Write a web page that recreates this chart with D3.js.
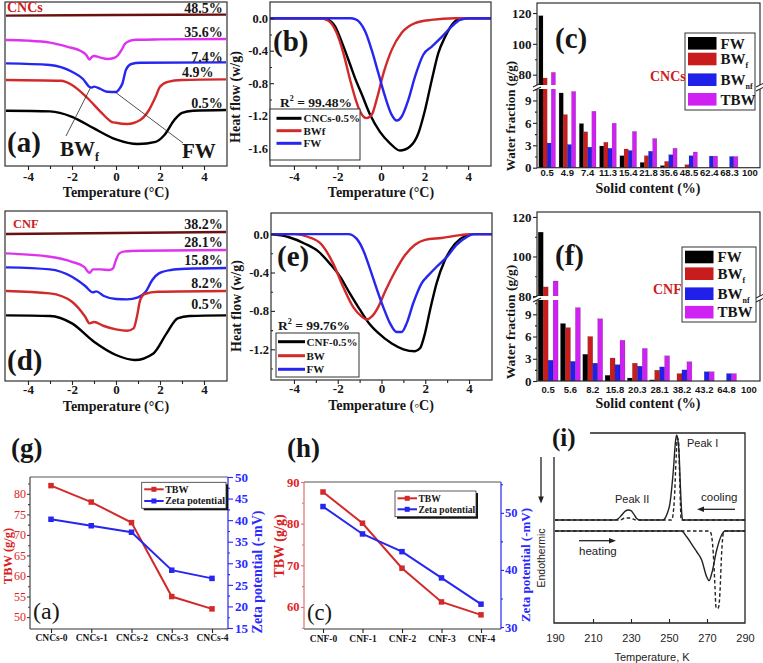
<!DOCTYPE html>
<html>
<head>
<meta charset="utf-8">
<script src="https://cdn.jsdelivr.net/npm/d3@7"></script>
<style>
html,body{margin:0;padding:0;background:#fff;}
svg{display:block;}
</style>
</head>
<body>
<svg id="fig" width="763" height="663"></svg>
<script>
// ================= DATA =================
// (a) CNCs DSC curves, stacked (temperature °C, heat flow a.u.)
const labelsA = ["48.5%", "35.6%", "7.4%", "4.9%", "0.5%"];
const cncs485 = [[-5,-0.68],[0,-0.65],[5,-0.63]];
const cncs356 = [[-5,-1.90],[-4,-1.93],[-3,-2.03],[-2.2,-2.24],[-1.6,-2.45],[-1.35,-2.65],[-1.2,-2.88],[-1.1,-2.75],[-1.0,-2.70],[-0.7,-2.78],[-0.4,-2.85],[-0.1,-2.80],[0.1,-2.65],[0.25,-2.40],[0.4,-2.10],[0.6,-1.95],[0.9,-1.89],[2,-1.87],[5,-1.85]];
const cncs74 = [[-5,-3.07],[-3,-3.15],[-2,-3.49],[-1.5,-3.85],[-1.2,-4.25],[-1.1,-4.28],[-1.0,-4.23],[-0.7,-4.35],[-0.4,-4.49],[0,-4.50],[0.15,-4.35],[0.3,-4.05],[0.45,-3.40],[0.7,-3.10],[1.1,-3.04],[5,-3.02]];
const cncs49 = [[-5,-3.90],[-2.5,-3.94],[-2,-4.15],[-1.3,-4.80],[-0.7,-5.49],[-0.2,-5.99],[0,-6.04],[0.5,-6.10],[1.1,-5.90],[1.5,-5.40],[1.8,-4.74],[2.0,-4.24],[2.35,-3.99],[3,-3.90],[5,-3.87]];
const cncs05 = [[-5,-5.44],[-3,-5.47],[-2,-5.74],[-1,-6.32],[0,-6.87],[1,-7.10],[1.8,-6.99],[2.2,-6.65],[2.65,-5.90],[3.0,-5.54],[3.5,-5.44],[5,-5.40]];

// (b) deconvolution CNCs-0.5% (°C, W/g)
const legendB = ["CNCs-0.5%", "BWf", "FW"];
const bTotal = [[-5.1,0],[-2.8,0],[-2.5,-0.01],[-2.11,-0.10],[-1.78,-0.31],[-1.42,-0.57],[-1.19,-0.74],[-0.88,-0.94],[-0.5,-1.19],[-0.05,-1.40],[0.41,-1.54],[0.87,-1.63],[1.33,-1.58],[1.71,-1.42],[2.02,-1.13],[2.33,-0.76],[2.63,-0.43],[2.94,-0.23],[3.32,-0.06],[3.7,0],[5.05,0]];
const bBWf = [[-5.1,0],[-2.8,0],[-2.42,-0.03],[-2.04,-0.18],[-1.73,-0.43],[-1.42,-0.76],[-1.19,-0.98],[-0.96,-1.15],[-0.66,-1.23],[-0.43,-1.19],[-0.2,-1.0],[0.11,-0.68],[0.49,-0.39],[0.95,-0.18],[1.56,-0.06],[2.3,-0.02],[3.4,0],[5.05,0]];
const bFW = [[-5.1,0],[-1.4,0],[-1.19,-0.01],[-0.73,-0.16],[-0.43,-0.39],[-0.12,-0.68],[0.18,-0.96],[0.49,-1.19],[0.72,-1.26],[0.95,-1.21],[1.26,-1.0],[1.56,-0.72],[1.94,-0.45],[2.33,-0.35],[2.79,-0.23],[3.25,-0.10],[3.63,-0.02],[4.0,0],[5.05,0]];
const r2B = "99.48%";

// (c) CNCs water fractions (g/g)
const solidC = ["0.5","4.9","7.4","11.3","15.4","21.8","35.6","48.5","62.4","68.3","100"];
const fwC   = [118.2, 10.0, 5.9, 2.9, 1.6, 0.7, 0.27, 0, 0, 0, 0];
const bwfC  = [77.8, 7.1, 4.8, 3.4, 2.5, 1.6, 0.84, 0.4, 0, 0, 0];
const bwnfC = [3.3, 3.1, 2.75, 2.6, 2.3, 2.2, 1.73, 1.6, 1.55, 1.5, 0];
const tbwC  = [81.5, 10.2, 7.55, 5.95, 4.85, 3.9, 2.6, 2.1, 1.55, 1.5, 0];

// (d) CNF DSC curves, stacked
const labelsD = ["38.2%", "28.1%", "15.8%", "8.2%", "0.5%"];
const cnf382 = [[-5,-1.15],[0,-1.10],[5,-1.05]];
const cnf281 = [[-5,-2.12],[-3,-2.29],[-2,-2.54],[-1.45,-2.79],[-1.2,-3.09],[-1.05,-2.92],[-0.7,-2.92],[-0.3,-2.95],[-0.15,-2.89],[0,-2.45],[0.15,-2.12],[0.4,-2.02],[1.1,-1.99],[5,-1.95]];
const cnf158 = [[-5,-2.82],[-3,-2.92],[-2,-3.29],[-1.4,-3.75],[-1.05,-4.07],[-0.9,-4.02],[-0.55,-4.25],[0,-4.40],[0.5,-4.42],[1.0,-4.32],[1.35,-4.04],[1.65,-3.45],[1.95,-3.12],[2.5,-2.95],[3.2,-2.89],[5,-2.85]];
const cnf82 = [[-5,-4.00],[-3,-4.12],[-2,-4.54],[-1.4,-5.29],[-1.2,-5.62],[-1.0,-5.55],[-0.55,-5.75],[0,-5.92],[0.5,-5.99],[0.8,-5.87],[0.95,-5.29],[1.1,-4.45],[1.3,-4.15],[1.9,-4.04],[5,-4.00]];
const cnf05 = [[-5,-5.22],[-3,-5.25],[-2,-5.62],[-1,-6.54],[0,-7.20],[0.85,-7.45],[1.7,-7.12],[2.3,-6.12],[2.8,-5.37],[3.35,-5.25],[5,-5.22]];

// (e) deconvolution CNF-0.5%
const legendE = ["CNF-0.5%", "BW", "FW"];
const eTotal = [[-5.05,0],[-4.26,-0.03],[-3.5,-0.10],[-2.89,-0.18],[-2.35,-0.31],[-1.9,-0.44],[-1.44,-0.62],[-0.98,-0.79],[-0.6,-0.92],[-0.15,-1.03],[0.47,-1.14],[1.0,-1.20],[1.53,-1.22],[1.76,-1.19],[1.99,-1.03],[2.22,-0.79],[2.52,-0.51],[2.9,-0.27],[3.36,-0.10],[3.82,-0.02],[4.2,0],[5.05,0]];
const eBW = [[-5.05,0],[-3.95,0],[-3.34,-0.03],[-2.73,-0.11],[-2.2,-0.31],[-1.75,-0.55],[-1.29,-0.76],[-0.9,-0.86],[-0.68,-0.89],[-0.45,-0.86],[-0.15,-0.76],[0.16,-0.60],[0.62,-0.39],[1.07,-0.22],[1.53,-0.11],[1.99,-0.06],[2.75,-0.04],[3.6,-0.01],[4.0,0],[5.05,0]];
const eFW = [[-5.05,0],[-1.52,0],[-1.13,-0.05],[-0.83,-0.17],[-0.53,-0.36],[-0.22,-0.57],[0.08,-0.76],[0.39,-0.93],[0.69,-1.02],[0.92,-1.02],[1.15,-0.93],[1.45,-0.72],[1.84,-0.51],[2.14,-0.43],[2.52,-0.34],[2.98,-0.24],[3.44,-0.11],[3.9,-0.03],[4.2,0],[5.05,0]];
const r2E = "99.76%";

// (f) CNF water fractions (g/g)
const solidF = ["0.5","5.6","8.2","15.8","20.3","28.1","38.2","43.2","64.8","100"];
const fwF   = [112.3, 7.75, 3.6, 0.76, 0.4, 0.15, 0, 0, 0, 0];
const bwfF  = [84.6, 7.2, 6.0, 3.1, 2.4, 1.45, 1.0, 0, 0, 0];
const bwnfF = [2.8, 2.65, 2.4, 2.2, 2.0, 1.9, 1.5, 1.25, 1.0, 0];
const tbwF  = [87.6, 9.9, 8.4, 5.5, 4.4, 3.4, 2.6, 1.25, 1.0, 0];

// (g) CNCs TBW vs zeta
const samplesG = ["CNCs-0","CNCs-1","CNCs-2","CNCs-3","CNCs-4"];
const tbwG  = [82.0, 78.0, 73.0, 55.0, 52.0];
const zetaG = [40.2, 38.7, 37.2, 28.4, 26.5];

// (h) CNF TBW vs zeta
const samplesH = ["CNF-0","CNF-1","CNF-2","CNF-3","CNF-4"];
const tbwH  = [87.6, 80.1, 69.3, 61.2, 58.1];
const zetaH = [51.1, 46.3, 43.2, 38.6, 34.0];

// (i) DSC of water (K, signal a.u.)
const coolSolid = [[190,54.2],[221,54.2],[223,54.7],[225.1,56.8],[227,58.9],[228.6,59.5],[230,59.1],[231.2,57.7],[233,55],[234.5,54.2],[246.5,54.2],[247.5,54.6],[249,57.5],[250.5,63],[252.3,80.5],[253.5,96.3],[254,98.9],[254.6,97],[255.3,89.3],[256,72],[256.7,57.7],[257.2,54.2],[290,54.2]];
const coolDash = [[190,54.2],[224,54.2],[226.8,55.2],[229.5,55.3],[232.5,54.2],[251.4,54.2],[252.8,64.7],[253.7,85.8],[254.4,97.2],[255,96],[255.5,80.5],[256,63],[256.4,54.2],[290,54.2]];
const heatSolid = [[190,48.4],[256.5,48.4],[259.3,45.4],[262.8,40.2],[264.6,37.5],[267.2,33.2],[269.8,24.4],[271.1,22.3],[272.5,26.1],[275.1,38.4],[277.7,46.3],[279.5,48.4],[290,48.4]];
const heatDash = [[190,48.4],[271.1,48.4],[272.1,47.2],[273.3,36.7],[274.2,19.1],[274.7,8.6],[275.5,7.5],[276.2,8.6],[276.8,15.8],[277.7,36.7],[278.6,47.2],[279.5,48.4],[290,48.4]];
const ticksI = [190,210,230,250,270,290];

// ================= DRAWING =================
const svg = d3.select("#fig");
svg.append("rect").attr("width",763).attr("height",663).attr("fill","#fff");
const SERIF = "'Liberation Serif','Times New Roman',Times,serif";
const SANS = "'Liberation Sans',Arial,Helvetica,sans-serif";
const INK = "#161616";
const RED = "#d22a2a", BLUE = "#2626f0", MAG = "#dd33ee", MAROON = "#6a1010";
const BAR = {FW:"#000000", BWf:"#c91c1c", BWnf:"#2020e8", TBW:"#cf22f2"};

function T(g, x, y, s, o = {}) {
  const t = g.append("text").attr("x", x).attr("y", y)
    .attr("font-family", o.ff || SERIF)
    .attr("font-weight", o.fw || "bold")
    .attr("font-size", o.fs || 13)
    .attr("fill", o.c || INK)
    .attr("text-anchor", o.a || "start");
  if (o.rot) t.attr("transform", `rotate(${o.rot},${x},${y})`);
  if (Array.isArray(s)) {
    s.forEach(p => {
      const sp = t.append("tspan").text(p.t);
      if (p.fs) sp.attr("font-size", p.fs);
      if (p.dy) sp.attr("dy", p.dy);
    });
  } else t.text(s);
  return t;
}
function frame(g, x0, y0, x1, y1, c = "#303030") {
  g.append("rect").attr("x", x0).attr("y", y0).attr("width", x1 - x0).attr("height", y1 - y0)
    .attr("fill", "none").attr("stroke", c).attr("stroke-width", 1.2);
}
function vline(g, x, y0, y1, c, w = 1.2) {
  g.append("line").attr("x1", x).attr("x2", x).attr("y1", y0).attr("y2", y1).attr("stroke", c).attr("stroke-width", w);
}
function hline(g, y, x0, x1, c, w = 1.2) {
  g.append("line").attr("x1", x0).attr("x2", x1).attr("y1", y).attr("y2", y).attr("stroke", c).attr("stroke-width", w);
}
function axis(g, gen, scale, pos, major, minor, fmt, o = {}) {
  const horiz = (gen === d3.axisBottom || gen === d3.axisTop);
  const tr = horiz ? `translate(0,${pos})` : `translate(${pos},0)`;
  const style = sel => {
    sel.select(".domain").remove();
    sel.selectAll("line").attr("stroke", o.lc || "#222").attr("stroke-width", 1.1);
    sel.selectAll("text").attr("font-family", o.ff || SERIF).attr("font-weight", o.fw || "bold")
      .attr("font-size", o.fs || 13).attr("fill", o.tc || INK);
  };
  const a = g.append("g").attr("transform", tr)
    .call(gen(scale).tickValues(major).tickSize(o.tk ?? 5).tickPadding(o.pad ?? 3).tickFormat(fmt));
  style(a);
  if (minor && minor.length) {
    const m = g.append("g").attr("transform", tr)
      .call(gen(scale).tickValues(minor).tickSize(o.tk2 ?? 3).tickFormat(() => ""));
    style(m);
  }
  return a;
}
const tickTemp = [-4, -2, 0, 2, 4], minorTemp = [-3, -1, 1, 3];
function curve(g, data, x, y, color, w = 2.4, dash = null) {
  const line = d3.line().x(d => x(d[0])).y(d => y(d[1])).curve(d3.curveMonotoneX);
  const p = g.append("path").attr("d", line(data)).attr("fill", "none").attr("stroke", color)
    .attr("stroke-width", w).attr("stroke-linejoin", "round");
  if (dash) p.attr("stroke-dasharray", dash);
  return p;
}

// ---------- (a) ----------
{
  const g = svg.append("g");
  const x = d3.scaleLinear().domain([-5, 5]).range([6, 226]);
  const y = d3.scaleLinear().domain([0, -8.2]).range([2, 166]);
  frame(g, 5, 2, 227, 166);
  const series = [cncs485, cncs356, cncs74, cncs49, cncs05];
  const cols = [MAROON, MAG, BLUE, RED, "#000"];
  series.forEach((d, i) => curve(g, d, x, y, cols[i], 2.4));
  axis(g, d3.axisBottom, x, 166, tickTemp, minorTemp, d => String(d), {tk: 4, pad: 2});
  T(g, 116, 197, "Temperature (°C)", {fs: 14, a: "middle"});
  T(g, 7, 12, "CNCs", {fs: 14, c: "#cc2020"});
  const lp = [[222.7, 13], [222.7, 37], [222.7, 61.5], [213.5, 77], [222.7, 108]];
  labelsA.forEach((s, i) => T(g, lp[i][0], lp[i][1], s, {fs: 14, a: "end"}));
  T(g, 7, 152, "(a)", {fs: 29});
  // annotation pointers
  g.append("line").attr("x1", 66).attr("y1", 136).attr("x2", x(-1.15)).attr("y2", y(-4.27)).attr("stroke", "#222").attr("stroke-width", 0.8);
  g.append("line").attr("x1", 183).attr("y1", 143).attr("x2", x(-0.02)).attr("y2", y(-4.52)).attr("stroke", "#222").attr("stroke-width", 0.8);
  T(g, 60, 156, [{t: "BW"}, {t: "f", fs: 12, dy: 5}], {fs: 21});
  T(g, 182, 158, "FW", {fs: 21});
}

// ---------- (b) ----------
{
  const g = svg.append("g");
  const x = d3.scaleLinear().domain([-5.1, 5.05]).range([270, 491]);
  const y = d3.scaleLinear().domain([0.2, -1.82]).range([2, 166]);
  curve(g, bTotal, x, y, "#000", 2.4);
  curve(g, bBWf, x, y, RED, 2.4);
  curve(g, bFW, x, y, BLUE, 2.4);
  frame(g, 270, 2, 491, 166);
  axis(g, d3.axisBottom, x, 166, tickTemp, minorTemp, d => String(d), {tk: 4, pad: 2});
  axis(g, d3.axisLeft, y, 270, [0, -0.4, -0.8, -1.2, -1.6], [-0.2, -0.6, -1.0, -1.4], d => d.toFixed(1), {tk: -4, tk2: -2, pad: 2, fs: 12.5});
  T(g, 381, 197, "Temperature (°C)", {fs: 14, a: "middle"});
  T(g, 240, 97, "Heat flow (w/g)", {fs: 14, a: "middle", rot: -90});
  T(g, 273, 51, "(b)", {fs: 29});
  T(g, 280, 107, [{t: "R"}, {t: "2", fs: 8, dy: -6}, {t: " = " + r2B, dy: 6}], {fs: 13.5});
  g.append("rect").attr("x", 270).attr("y", 109).attr("width", 90).attr("height", 51).attr("fill", "#fff").attr("stroke", "#333").attr("stroke-width", 1);
  const lc = ["#000", RED, BLUE], ly = [118.3, 130.7, 143.3];
  legendB.forEach((s, i) => {
    hline(g, ly[i], 276.5, 301.5, lc[i], 3);
    T(g, 303.5, ly[i] + 4, s, {fs: 11});
  });
}

// ---------- bar panels (c) & (f) ----------
function barPanel(g, cfg) {
  const keys = ["FW", "BWf", "BWnf", "TBW"];
  const x = d3.scaleBand().domain(cfg.cats).range([cfg.x0, cfg.x1]).paddingInner(cfg.pi).paddingOuter(cfg.po);
  const xs = d3.scaleBand().domain(keys).range([0, x.bandwidth()]);
  const yLow = d3.scaleLinear().domain([0, cfg.lowMax]).range([cfg.yb, cfg.yk]);
  const yUp = d3.scaleLinear().domain([cfg.upMin, cfg.upMax]).range([cfg.yk, cfg.yt]);
  const yv = v => (v <= cfg.lowMax ? yLow(v) : yUp(v));
  cfg.series.forEach((vals, si) => {
    const k = keys[si];
    const data = vals.map((v, i) => ({v, c: cfg.cats[i]})).filter(d => d.v > 0);
    g.selectAll(null).data(data).enter().append("rect")
      .attr("x", d => x(d.c) + xs(k)).attr("width", xs.bandwidth())
      .attr("y", d => yv(d.v)).attr("height", d => cfg.yb - yv(d.v))
      .attr("fill", BAR[k]).attr("stroke", "rgba(0,0,0,0.35)").attr("stroke-width", 0.4);
  });
  frame(g, cfg.x0, cfg.yt, cfg.x1, cfg.yb);
  // axis break gap
  g.append("rect").attr("x", cfg.x0 - 1.5).attr("y", cfg.yk - 2).attr("width", cfg.x1 - cfg.x0 + 3).attr("height", 4).attr("fill", "#fff");
  [cfg.x0, cfg.x1].forEach(xx => {
    [-2, 2].forEach(off => {
      g.append("line").attr("x1", xx - 4).attr("y1", cfg.yk + off + 2).attr("x2", xx + 4).attr("y2", cfg.yk + off - 2)
        .attr("stroke", "#222").attr("stroke-width", 1.1);
    });
  });
  axis(g, d3.axisLeft, yLow, cfg.x0, [0, 3, 6, 9], [1.5, 4.5, 7.5, 10.5], d => String(d), {tk: 4, tk2: 2, pad: 1.5});
  axis(g, d3.axisLeft, yUp, cfg.x0, [80, 100, 120], [90, 110], d => String(d), {tk: 4, tk2: 2, pad: 1.5});
  axis(g, d3.axisBottom, x, cfg.yb, cfg.cats, null, d => d, {tk: 0, pad: cfg.xpad, ff: SANS, fs: 9.5});
  // legend
  const L = cfg.leg;
  g.append("rect").attr("x", L.x).attr("y", L.y).attr("width", L.w).attr("height", L.h).attr("fill", "#fff").attr("stroke", "#333").attr("stroke-width", 1);
  const rows = [[{t: "FW"}], [{t: "BW"}, {t: "f", fs: 8, dy: 4}], [{t: "BW"}, {t: "nf", fs: 8, dy: 4}], [{t: "TBW"}]];
  keys.forEach((k, i) => {
    const cy = L.y + L.rows[i];
    g.append("rect").attr("x", L.x + 3).attr("y", cy - 6.3).attr("width", 28.5).attr("height", 12.6).attr("fill", BAR[k]);
    T(g, L.x + 35.5, cy + 5.2, rows[i], {fs: 15});
  });
}

// ---------- (c) ----------
{
  const g = svg.append("g");
  barPanel(g, {cats: solidC, series: [fwC, bwfC, bwnfC, tbwC], x0: 537, x1: 760, pi: 0.18, po: 0.09,
    yb: 167.7, yk: 87, yt: 3, lowMax: 10.8, upMin: 72, upMax: 126.5, xpad: 1.8,
    leg: {x: 685, y: 33, w: 70, h: 77, rows: [10.3, 26, 46.7, 66.3]}});
  T(g, 648, 193, "Solid content (%)", {fs: 14, a: "middle"});
  T(g, 515, 116, "Water fraction (g/g)", {fs: 13, a: "middle", rot: -90});
  T(g, 555, 48, "(c)", {fs: 29});
  T(g, 650, 81, "CNCs", {fs: 14, c: "#cc2020"});
}

// ---------- (d) ----------
{
  const g = svg.append("g");
  const x = d3.scaleLinear().domain([-5, 5]).range([6, 226]);
  const y = d3.scaleLinear().domain([0, -8.5]).range([211, 381]);
  frame(g, 5, 211, 227, 381);
  const series = [cnf382, cnf281, cnf158, cnf82, cnf05];
  const cols = [MAROON, MAG, BLUE, RED, "#000"];
  series.forEach((d, i) => curve(g, d, x, y, cols[i], 2.4));
  axis(g, d3.axisBottom, x, 381, tickTemp, minorTemp, d => String(d), {tk: 4, pad: 0});
  T(g, 116, 410.5, "Temperature (°C)", {fs: 14, a: "middle"});
  T(g, 13, 228, "CNF", {fs: 12.5, c: "#cc2020"});
  const lp = [229, 247, 265, 288, 309];
  labelsD.forEach((s, i) => T(g, 222.7, lp[i], s, {fs: 14, a: "end"}));
  T(g, 7, 370, "(d)", {fs: 29});
}

// ---------- (e) ----------
{
  const g = svg.append("g");
  const x = d3.scaleLinear().domain([-5.05, 5.05]).range([271, 492]);
  const y = d3.scaleLinear().domain([0.22, -1.52]).range([213, 380]);
  curve(g, eTotal, x, y, "#000", 2.4);
  curve(g, eBW, x, y, RED, 2.4);
  curve(g, eFW, x, y, BLUE, 2.4);
  frame(g, 271, 213, 492, 380);
  axis(g, d3.axisBottom, x, 380, tickTemp, minorTemp, d => String(d), {tk: 4, pad: 0});
  axis(g, d3.axisLeft, y, 271, [0, -0.4, -0.8, -1.2], [-0.2, -0.6, -1.0, -1.4], d => d.toFixed(1), {tk: -4, tk2: -2, pad: 2, fs: 12.5});
  T(g, 381, 409.5, "Temperature (◦C)", {fs: 14, a: "middle"});
  T(g, 241, 306, "Heat flow (w/g)", {fs: 14, a: "middle", rot: -90});
  T(g, 277, 266, "(e)", {fs: 29});
  T(g, 278, 330, [{t: "R"}, {t: "2", fs: 8, dy: -6}, {t: " = " + r2E, dy: 6}], {fs: 13.5});
  g.append("rect").attr("x", 276).attr("y", 333).attr("width", 83).attr("height", 44).attr("fill", "#fff").attr("stroke", "#333").attr("stroke-width", 1);
  const lc = ["#000", RED, BLUE], ly = [341.7, 355.7, 369.3];
  legendE.forEach((s, i) => {
    hline(g, ly[i], 278, 305, lc[i], 3);
    T(g, 306.5, ly[i] + 4, s, {fs: 11});
  });
}

// ---------- (f) ----------
{
  const g = svg.append("g");
  barPanel(g, {cats: solidF, series: [fwF, bwfF, bwnfF, tbwF], x0: 537, x1: 760, pi: 0.11, po: 0.055,
    yb: 381, yk: 298, yt: 212, lowMax: 11.2, upMin: 79, upMax: 122.5, xpad: 5,
    leg: {x: 682, y: 247, w: 74, h: 75, rows: [10, 26.7, 46.7, 65.2]}});
  T(g, 648, 408, "Solid content (%)", {fs: 14, a: "middle"});
  T(g, 515, 322, "Water fraction (g/g)", {fs: 13.5, a: "middle", rot: -90});
  T(g, 555, 265, "(f)", {fs: 29});
  T(g, 653, 294, "CNF", {fs: 14, c: "#cc2020"});
}

// ---------- dual-axis panels (g) & (h) ----------
function dualPanel(g, cfg) {
  const x = d3.scalePoint().domain(cfg.cats).range([cfg.cx0, cfg.cx1]);
  const yL = d3.scaleLinear().domain(cfg.dl).range([cfg.y1, cfg.y0]);
  const yR = d3.scaleLinear().domain(cfg.dr).range([cfg.y1, cfg.y0]);
  hline(g, cfg.y0, cfg.x0, cfg.x1, "#555");
  hline(g, cfg.y1, cfg.x0, cfg.x1, "#333");
  vline(g, cfg.x0, cfg.y0, cfg.y1, cfg.leftAxisColor);
  vline(g, cfg.x1, cfg.y0, cfg.y1, BLUE);
  const lineL = d3.line().x((d, i) => x(cfg.cats[i])).y(d => yL(d));
  const lineR = d3.line().x((d, i) => x(cfg.cats[i])).y(d => yR(d));
  g.append("path").attr("d", lineL(cfg.left)).attr("fill", "none").attr("stroke", RED).attr("stroke-width", 2);
  g.append("path").attr("d", lineR(cfg.right)).attr("fill", "none").attr("stroke", BLUE).attr("stroke-width", 2);
  const ms = 5.5;
  g.selectAll(null).data(cfg.left).enter().append("rect")
    .attr("x", (d, i) => x(cfg.cats[i]) - ms / 2).attr("y", d => yL(d) - ms / 2).attr("width", ms).attr("height", ms).attr("fill", RED);
  g.selectAll(null).data(cfg.right).enter().append("rect")
    .attr("x", (d, i) => x(cfg.cats[i]) - ms / 2).attr("y", d => yR(d) - ms / 2).attr("width", ms).attr("height", ms).attr("fill", BLUE);
  axis(g, d3.axisLeft, yL, cfg.x0, cfg.lt, cfg.lm, d => String(d), {tk: 3, tk2: 2, pad: cfg.lpad, tc: "#e02424", lc: cfg.leftAxisColor, fw: cfg.lfw, fs: cfg.lfs});
  axis(g, d3.axisRight, yR, cfg.x1, cfg.rt, cfg.rm, d => String(d), {tk: cfg.rtk, tk2: 2, pad: cfg.rpad, tc: "#2a2aff", lc: BLUE, fs: cfg.rfs});
  axis(g, d3.axisBottom, x, cfg.y1, cfg.cats, null, d => d, {tk: 4, pad: cfg.xpad, fs: 9.5});
  // legend
  const L = cfg.leg;
  g.append("rect").attr("x", L.x + 2).attr("y", L.y + 2).attr("width", L.w).attr("height", L.h).attr("fill", "#111");
  g.append("rect").attr("x", L.x).attr("y", L.y).attr("width", L.w).attr("height", L.h).attr("fill", "#fff").attr("stroke", "#333").attr("stroke-width", 0.8);
  const names = ["TBW", "Zeta potential"], cols = [RED, BLUE];
  [L.r1, L.r2].forEach((yy, i) => {
    hline(g, L.y + yy, L.x + 2.5, L.x + 22, cols[i], 2);
    g.append("rect").attr("x", L.x + 12.2 - 2.5).attr("y", L.y + yy - 2.5).attr("width", 5).attr("height", 5).attr("fill", cols[i]);
    T(g, L.x + 23.5, L.y + yy + 3.4, names[i], {fs: L.fs});
  });
}

// ---------- (g) ----------
{
  const g = svg.append("g");
  dualPanel(g, {cats: samplesG, left: tbwG, right: zetaG, x0: 30, x1: 228, y0: 477, y1: 629,
    cx0: 51, cx1: 212, dl: [47.1, 84.1], dr: [14.77, 50],
    lt: [50, 55, 60, 65, 70, 75, 80], lm: [52.5, 57.5, 62.5, 67.5, 72.5, 77.5, 82.5],
    rt: [15, 20, 25, 30, 35, 40, 45, 50], rm: [17.5, 22.5, 27.5, 32.5, 37.5, 42.5, 47.5],
    leftAxisColor: "#444", lfw: "normal", lfs: 12, lpad: 1, xpad: 1.3, rtk: 5, rpad: 2, rfs: 13,
    leg: {x: 141.7, y: 482.3, w: 84.3, h: 26, r1: 7, r2: 18.7, fs: 10}});
  T(g, 11, 457, "(g)", {fs: 27});
  T(g, 33, 619, "(a)", {fs: 24, fw: "normal"});
  T(g, 11.5, 556, "TBW (g/g)", {fs: 12.5, a: "middle", rot: -90, c: "#d82020"});
  T(g, 262, 572, "Zeta potential (-mV)", {fs: 14, a: "middle", rot: -90, c: "#2a2aff"});
}

// ---------- (h) ----------
{
  const g = svg.append("g");
  dualPanel(g, {cats: samplesH, left: tbwH, right: zetaH, x0: 304, x1: 501, y0: 482, y1: 629,
    cx0: 323, cx1: 481, dl: [54.7, 90], dr: [29.65, 55.4],
    lt: [60, 70, 80, 90], lm: [55, 65, 75, 85],
    rt: [30, 40, 50], rm: [35, 45, 55],
    leftAxisColor: "#e07070", lfw: "bold", lfs: 12.5, lpad: 1.5, xpad: 2, rtk: 3, rpad: 1, rfs: 12.5,
    leg: {x: 395, y: 491, w: 81, h: 25.7, r1: 7.3, r2: 18.3, fs: 9.5}});
  T(g, 287, 457, "(h)", {fs: 27});
  T(g, 307, 620, "(c)", {fs: 22.5, fw: "normal"});
  T(g, 283.5, 546, "TBW (g/g)", {fs: 14, a: "middle", rot: -90, c: "#d82020"});
  T(g, 530, 565, "Zeta potential (-mV)", {fs: 13, a: "middle", rot: -90, c: "#2a2aff"});
}

// ---------- (i) ----------
{
  const g = svg.append("g");
  const x = d3.scaleLinear().domain([190, 290]).range([555, 745]);
  const y = d3.scaleLinear().domain([0, 100]).range([623, 433]);
  const ink = "#222";
  curve(g, coolSolid, x, y, ink, 1.4);
  curve(g, coolDash, x, y, ink, 1.4, "3.5,2.5");
  curve(g, heatSolid, x, y, ink, 1.4);
  curve(g, heatDash, x, y, ink, 1.4, "3.5,2.5");
  g.append("path").attr("d", "M590,433H745V623H554V457").attr("fill", "none").attr("stroke", ink).attr("stroke-width", 1.3);
  axis(g, d3.axisBottom, x, 623, [210, 230, 250, 270], null, () => "", {tk: -4, lc: ink});
  axis(g, d3.axisBottom, x, 623, ticksI, null, d => String(d), {tk: 0, pad: 11.2, ff: SANS, fw: "normal", fs: 11, tc: ink});
  T(g, 652, 661, "Temperature, K", {ff: SANS, fw: "normal", fs: 11, a: "middle", c: ink});
  T(g, 687, 447, "Peak I", {ff: SANS, fw: "normal", fs: 11, c: ink});
  T(g, 615, 503, "Peak II", {ff: SANS, fw: "normal", fs: 11, c: ink});
  T(g, 701, 501, "cooling", {ff: SANS, fw: "normal", fs: 11.5, c: ink});
  T(g, 579, 555, "heating", {ff: SANS, fw: "normal", fs: 11.5, c: ink});
  T(g, 545, 558, "Endothermic", {ff: SANS, fw: "normal", fs: 10.5, a: "middle", rot: -90, c: ink});
  // arrows
  hline(g, 509.3, 703, 735, ink, 1.3);
  g.append("path").attr("d", "M697,509.3L704,506.5L704,512.1Z").attr("fill", ink);
  hline(g, 540.7, 579, 610, ink, 1.3);
  g.append("path").attr("d", "M616,540.7L609,537.9L609,543.5Z").attr("fill", ink);
  vline(g, 541, 457, 497, ink, 1.3);
  g.append("path").attr("d", "M541,503.5L538.2,496.5L543.8,496.5Z").attr("fill", ink);
  T(g, 552, 446, "(i)", {fs: 25});
}
</script>
</body>
</html>
